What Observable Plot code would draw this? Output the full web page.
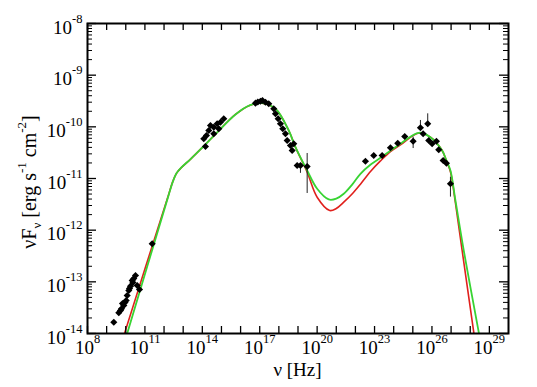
<!DOCTYPE html>
<html>
<head>
<meta charset="utf-8">
<script src="https://cdn.jsdelivr.net/npm/d3@7"></script>
<script src="https://cdn.jsdelivr.net/npm/@observablehq/plot@0.6"></script>
<style>
  html, body { margin: 0; padding: 0; background: #fff; }
  svg { display: block; }
</style>
</head>
<body>
<div id="chart"></div>
<script>
// ---- data (log10 values) ----
// observed SED points: log10(nu [Hz]) and log10(nuFnu [erg s^-1 cm^-2])
const obsLogNu = [
  9.374, 9.635, 9.724, 9.776, 9.829, 9.897, 9.959, 10.022, 10.074, 10.158, 10.195, 10.247, 10.335, 10.377, 10.419, 10.508, 10.597, 10.717, 11.380,
  14.076, 14.165, 14.217, 14.338, 14.426, 14.599, 14.599, 14.776, 14.860, 14.949, 15.121,
  16.777, 16.900, 17.039, 17.143, 17.300, 17.472,
  17.734, 17.822, 17.963, 18.083, 18.204, 18.345, 18.434, 18.606, 18.695, 18.778,
  18.956, 19.129, 19.479,
  22.524, 22.958, 23.397, 23.831, 24.212, 24.578, 25.017, 25.398, 25.539, 25.779, 25.832, 26.009, 26.234, 26.354, 26.584, 26.757, 26.966
];
const obsLogF = [
  -13.781, -13.599, -13.554, -13.522, -13.419, -13.458, -13.400, -13.361, -13.264, -13.167, -13.129, -13.084, -12.974, -13.013, -12.935, -12.877, -13.071, -13.148, -12.264,
  -10.231, -10.380, -10.168, -10.071, -9.974, -10.007, -10.135, -9.941, -10.038, -9.910, -9.844,
  -9.542, -9.520, -9.504, -9.490, -9.523, -9.554,
  -9.651, -9.748, -9.844, -9.941, -10.038, -10.135, -10.264, -10.361, -10.458, -10.328,
  -10.748, -10.748, -10.768,
  -10.665, -10.555, -10.555, -10.406, -10.317, -10.187, -10.278, -10.019, -10.135, -9.941, -10.264, -10.328, -10.278, -10.444, -10.651, -10.704, -11.102
];
// vertical error bars: log10(nu), lower and upper log10(nuFnu)
const errLogNu = [19.129, 19.479, 25.017, 25.398, 25.779, 26.966];
const errLogLo = [-10.900, -11.290, -10.420, -10.019, -9.941, -11.360];
const errLogHi = [-10.710, -10.516, -10.200, -9.877, -9.748, -10.975];

// model curves (green and red)
const greenLogNu = [9.83, 10.074, 12.20, 12.45, 12.65, 12.90, 13.40, 14.00, 14.688, 15.733, 16.50, 17.128, 17.823, 18.517, 18.867, 19.479, 20.001, 20.607, 21.00, 21.391, 21.85, 22.263, 22.80, 23.308, 24.353, 25.309, 25.920, 26.532, 26.757, 26.966, 27.227, 27.661, 28.444, 28.60];
const greenLogF  = [-14.30, -14.00, -11.370, -11.070, -10.900, -10.790, -10.620, -10.400, -10.140, -9.760, -9.580, -9.542, -9.651, -10.071, -10.394, -10.845, -11.199, -11.406, -11.390, -11.296, -11.110, -10.909, -10.730, -10.600, -10.328, -10.115, -10.200, -10.458, -10.651, -10.845, -11.426, -12.393, -13.974, -14.30];
const redLogNu = [9.70, 9.933, 12.20, 12.45, 12.65, 12.90, 13.40, 14.00, 14.688, 15.733, 16.50, 17.128, 17.823, 18.517, 18.867, 19.479, 20.001, 20.659, 21.00, 21.391, 21.85, 22.263, 22.80, 23.308, 23.83, 24.353, 25.309, 25.920, 26.532, 26.757, 26.966, 27.227, 27.577, 28.183, 28.31];
const redLogF  = [-14.30, -14.00, -11.360, -11.065, -10.900, -10.790, -10.620, -10.400, -10.140, -9.760, -9.580, -9.542, -9.651, -10.071, -10.394, -10.878, -11.362, -11.619, -11.580, -11.458, -11.290, -11.110, -10.860, -10.660, -10.480, -10.350, -10.120, -10.200, -10.458, -10.660, -10.870, -11.470, -12.393, -13.974, -14.30];

// axis ticks (exponents)
const xTickExps = d3.range(8, 30);
const xLabelExps = [8, 11, 14, 17, 20, 23, 26, 29];
const yMajorExps = d3.range(-14, -7);
const yMinorMult = [2, 3, 4, 5, 6, 7, 8, 9];

// ---- tables built from the arrays ----
const pts = obsLogNu.map((v, i) => ({nu: 10 ** v, f: 10 ** obsLogF[i]}));
const errs = errLogNu.map((v, i) => ({nu: 10 ** v, lo: 10 ** errLogLo[i], hi: 10 ** errLogHi[i]}));
const green = greenLogNu.map((v, i) => ({nu: 10 ** v, f: 10 ** greenLogF[i]}));
const red = redLogNu.map((v, i) => ({nu: 10 ** v, f: 10 ** redLogF[i]}));
const xTicks = xTickExps.map(e => 10 ** e);
const xLabels = xLabelExps.map(e => ({v: 10 ** e, t: "10^" + e}));
const yMajor = yMajorExps.map(e => 10 ** e);
const yLabels = yMajorExps.map(e => ({v: 10 ** e, t: "10^" + e}));
const yMinor = yMajorExps.slice(0, -1).flatMap(e => yMinorMult.map(m => m * 10 ** e));

const W = 537, H = 387, ML = 87, MR = 29, MT = 23, MB = 54;
const PW = W - ML - MR, PH = H - MT - MB;
const FONT = "'Liberation Serif'";

const chart = Plot.plot({
  width: W, height: H,
  marginLeft: ML, marginRight: MR, marginTop: MT, marginBottom: MB,
  x: {type: "log", domain: [1e8, 1e30], axis: null},
  y: {type: "log", domain: [1e-14, 1e-8], axis: null},
  style: {background: "#fff", color: "#000"},
  marks: [
    Plot.line(red, {x: "nu", y: "f", stroke: "#e0201c", strokeWidth: 1.6, curve: "catmull-rom", clip: true}),
    Plot.line(green, {x: "nu", y: "f", stroke: "#38d433", strokeWidth: 1.8, curve: "catmull-rom", clip: true}),
    Plot.ruleX(errs, {x: "nu", y1: "lo", y2: "hi", stroke: "#222", strokeWidth: 1}),
    Plot.dot(pts, {x: "nu", y: "f", symbol: "diamond2", r: 3.2, fill: "#000", stroke: "none"}),
    // ticks (inward)
    Plot.tickX(xTicks, {x: d => d, insetTop: PH - 7, stroke: "#000", strokeWidth: 1.3}),
    Plot.tickX(xTicks, {x: d => d, insetBottom: PH - 7, stroke: "#000", strokeWidth: 1.3}),
    Plot.tickY(yMajor, {y: d => d, insetRight: PW - 9, stroke: "#000", strokeWidth: 1.3}),
    Plot.tickY(yMajor, {y: d => d, insetLeft: PW - 9, stroke: "#000", strokeWidth: 1.3}),
    Plot.tickY(yMinor, {y: d => d, insetRight: PW - 5, stroke: "#000", strokeWidth: 1}),
    Plot.tickY(yMinor, {y: d => d, insetLeft: PW - 5, stroke: "#000", strokeWidth: 1}),
    Plot.frame({stroke: "#000", strokeWidth: 2}),
    // tick labels
    Plot.text(xLabels, {x: "v", frameAnchor: "bottom", text: "t", dy: 20, fontSize: 19, fill: "#000"}),
    Plot.text(yLabels, {y: "v", frameAnchor: "left", text: "t", textAnchor: "end", dx: -5, dy: 4, fontSize: 19, fill: "#000"})
  ]
});

// superscript exponents in tick labels
d3.select(chart).selectAll("text").each(function () {
  const m = /^10\^(-?\d+)$/.exec(this.textContent);
  if (!m) return;
  const s = d3.select(this);
  s.text(null);
  s.append("tspan").text("10");
  s.append("tspan").attr("dy", -11).attr("font-size", 12.5).text(m[1]);
});

// axis titles
const svg = d3.select(chart);
const xt = svg.append("text")
  .attr("x", ML + PW / 2).attr("y", 376)
  .attr("text-anchor", "middle").attr("font-size", 19).attr("fill", "#000");
xt.text("ν [Hz]");

const yt = svg.append("text")
  .attr("transform", `translate(36,${MT + PH / 2 + 4}) rotate(-90)`)
  .attr("text-anchor", "middle").attr("font-size", 20).attr("fill", "#000");
yt.append("tspan").text("νF");
yt.append("tspan").attr("dy", 5).attr("font-size", 13).text("ν");
yt.append("tspan").attr("dy", -5).text(" [erg s");
yt.append("tspan").attr("dy", -10).attr("font-size", 13).text("-1");
yt.append("tspan").attr("dy", 10).text(" cm");
yt.append("tspan").attr("dy", -10).attr("font-size", 13).text("-2");
yt.append("tspan").attr("dy", 10).text("]");

// force the serif face on every text node
svg.selectAll("style").remove();
svg.attr("font-family", FONT);
svg.node().style.setProperty("font-family", FONT, "important");
svg.selectAll("g").attr("font-family", null);
svg.selectAll("text, tspan").each(function () {
  this.setAttribute("font-family", FONT);
  this.style.setProperty("font-family", FONT, "important");
});

document.getElementById("chart").appendChild(chart);
</script>
</body>
</html>
